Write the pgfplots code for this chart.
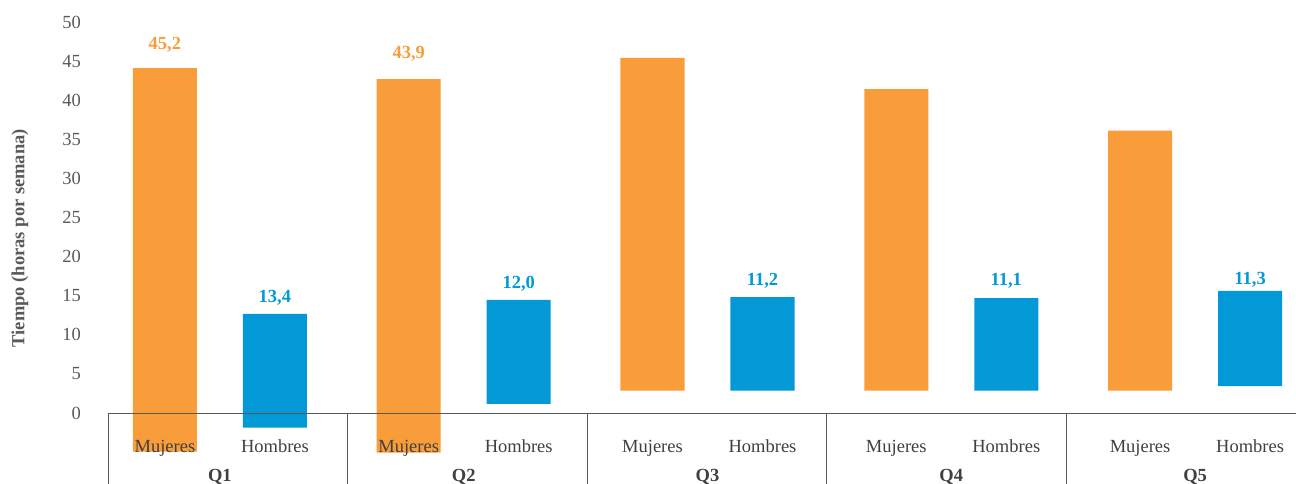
\documentclass[border=0pt]{standalone}
\usepackage{pgfplots}
\usepackage{pgfplotstable}
\pgfplotsset{compat=1.18}
\usepackage{fontspec}
\setmainfont{Liberation Serif}

\definecolor{muj}{HTML}{F89D3A}
\definecolor{hom}{HTML}{0398D6}
\definecolor{txt}{HTML}{595959}
\definecolor{dark}{HTML}{404040}

% floating bars: invisible base, then height of each bar
\pgfplotstableread{
x        base   muj    hom
-0.2256  -4.95  49.05  0
0.2256   -1.88  0      14.54
0.7744   -5.08  47.78  0
1.2256    1.15  0      13.30
1.7744    2.85  42.55  0
2.2256    2.85  0      11.98
2.7744    2.85  38.55  0
3.2256    2.85  0      11.85
3.7744    2.85  33.25  0
4.2256    3.45  0      12.15
}\bars

\newcommand{\fs}{\fontsize{18.5}{22}\selectfont}

\pgfplotsset{
  frame/.style={
    scale only axis, width=1187pt, height=484pt,
    xmin=-0.455, xmax=4.414, ymin=-9.08, ymax=52.81,
    enlargelimits=false,
    axis line style={draw=none},
    xtick=\empty, major tick length=0pt,
    clip=false,
  },
  txtplot/.style={draw=none, mark=none, nodes near coords,
    point meta=explicit symbolic,
    every node near coord/.append style={anchor=base, inner sep=0pt, font=\fs #1}},
}

\begin{document}
\begin{tikzpicture}
\begin{axis}[frame, ybar stacked, stack negative=on previous, bar width=0.2626, ytick=\empty]
  \addplot[draw=none, fill=none] table[x=x, y=base] {\bars};
  \addplot[draw=none, fill=muj] table[x=x, y=muj] {\bars};
  \addplot[draw=none, fill=hom] table[x=x, y=hom] {\bars};
\end{axis}

\begin{axis}[frame,
  ytick={0,5,...,50},
  /pgf/number format/assume math mode=true,
  yticklabel style={anchor=east, inner sep=0pt, xshift=-28pt, font=\fs, text=txt},
  ylabel={Tiempo (horas por semana)},
  ylabel style={at={(axis description cs:-0.075,0.508)}, anchor=center,
    font=\fs\bfseries, text=txt},
]
  % category box
  \addplot[draw=txt, line width=1pt, mark=none] coordinates {(-0.455,-0.128) (4.414,-0.128)};
  \addplot[ycomb, draw=txt, line width=1pt, mark=none] coordinates {
    (-0.455,-9.08) (0.525,-9.08) (1.506,-9.08) (2.489,-9.08) (3.471,-9.08)};

  % data labels
  \addplot[txtplot={\bfseries\color{muj}}] table[meta=t] {
x y t
-0.2256 46.5 45,2
0.7744 45.3 43,9
};
  \addplot[txtplot={\bfseries\color{hom}}] table[meta=t] {
x y t
0.2256 14.16 13,4
1.2256 15.95 12,0
2.2256 16.28 11,2
3.2256 16.28 11,1
4.2256 16.37 11,3
};

  % category names
  \addplot[txtplot={\color{dark}}] table[meta=t] {
x y t
-0.2256 -5.08 Mujeres
0.2256 -5.08 Hombres
0.7744 -5.08 Mujeres
1.2256 -5.08 Hombres
1.7744 -5.08 Mujeres
2.2256 -5.08 Hombres
2.7744 -5.08 Mujeres
3.2256 -5.08 Hombres
3.7744 -5.08 Mujeres
4.2256 -5.08 Hombres
};
  \addplot[txtplot={\bfseries\color{dark}}] table[meta=t] {
x y t
0 -8.7 Q1
1 -8.7 Q2
2 -8.7 Q3
3 -8.7 Q4
4 -8.7 Q5
};
\end{axis}
\pgfresetboundingbox
\path ([xshift=-109pt]current axis.south west) rectangle (current axis.north east);
\end{tikzpicture}
\end{document}
